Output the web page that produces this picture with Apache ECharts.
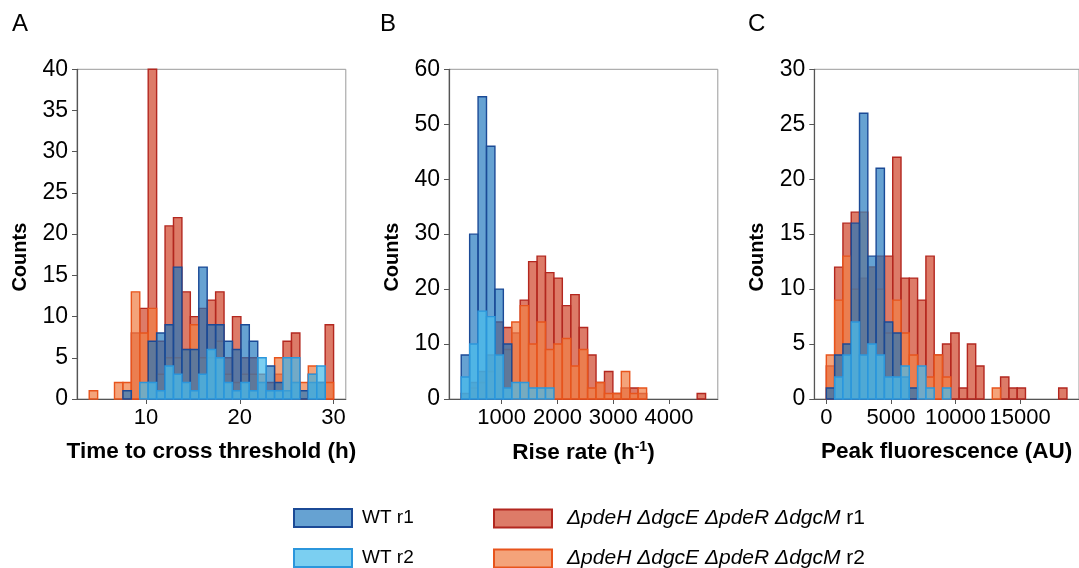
<!DOCTYPE html>
<html><head><meta charset="utf-8">
<script src="https://cdn.jsdelivr.net/npm/echarts@6.0.0/dist/echarts.min.js"></script>
<style>html,body{margin:0;padding:0;background:#fff}#c{width:1079px;height:568px}</style>
</head><body><div id="c"></div>
<script>
const seriesNames = ['ΔpdeH ΔdgcE ΔpdeR ΔdgcM r1','ΔpdeH ΔdgcE ΔpdeR ΔdgcM r2','WT r1','WT r2'];
const panelLetters = ['A','B','C'];
const xTitles = ['Time to cross threshold (h)','Rise rate (h{sup|-1})','Peak fluorescence (AU)'];
const yTitle = 'Counts';

// Panel A: time to cross threshold (29 bins)
const binStartA = 3.94, binWidthA = 0.8986;
const xTicksA = [10, 20, 30];
const yMaxA = 40, yStepA = 5;
const mutR1A = [0,0,0,0,0,8,11,40,7,21,22,13,10,11,12,13,5,10,5,5,3,2,3,7,8,0,3,2,9];
const mutR2A = [1,0,0,2,2,13,8,11,3,5,5,6,9,5,5,7,3,2,3,3,2,1,5,1,2,2,4,0,2];
const wtR1A  = [0,0,0,0,1,0,0,7,8,9,16,6,6,16,9,9,7,6,9,7,2,4,2,1,2,1,2,2,0];
const wtR2A  = [0,0,0,0,0,0,2,2,1,4,3,2,1,3,6,5,2,1,2,1,5,1,1,5,5,0,3,4,0];

// Panel B: rise rate (29 bins)
const binStartB = 276, binWidthB = 151;
const xTicksB = [1000, 2000, 3000, 4000];
const yMaxB = 60, yStepB = 10;
const mutR1B = [1,3,5,8,14,13,12,18,25,26,23,22,17,19,13,8,3,5,1,2,2,1,0,0,0,0,0,0,1];
const mutR2B = [0,2,3,5,8,9,14,17,10,14,9,10,11,6,9,2,3,1,1,5,1,2,0,0,0,0,0,0,0];
const wtR1B  = [8,30,55,46,20,10,0,0,0,0,0,0,0,0,0,0,0,0,0,0,0,0,0,0,0,0,0,0,0];
const wtR2B  = [4,10,16,15,8,2,3,3,2,2,2,0,0,0,0,0,0,0,0,0,0,0,0,0,0,0,0,0,0];

// Panel C: peak fluorescence (29 bins)
const binStartC = 0, binWidthC = 642.5;
const xTicksC = [0, 5000, 10000, 15000];
const yMaxC = 30, yStepC = 5;
const mutR1C = [3,12,16,17,11,12,13,13,22,11,11,9,13,4,5,6,1,5,3,0,0,2,1,1,0,0,0,0,1];
const mutR2C = [4,9,13,10,17,12,10,6,9,6,4,0,2,4,2,0,0,0,0,0,1,0,0,0,0,0,0,0,0];
const wtR1C  = [1,4,5,16,26,13,21,7,6,2,1,0,0,0,0,0,0,0,0,0,0,0,0,0,0,0,0,0,0];
const wtR2C  = [0,2,4,7,4,5,4,2,2,3,0,3,1,0,1,0,0,0,0,0,0,0,0,0,0,0,0,0,0];

const FONT = "'Liberation Sans', Arial, sans-serif";
const fills = ['rgba(208,72,46,0.72)','rgba(240,128,70,0.72)','rgba(30,118,188,0.68)','rgba(72,188,236,0.72)'];
const strokes = ['#b3271f','#e8541c','#1b4a96','#2b96dc'];

const panels = [
  {start:binStartA, width:binWidthA, ticks:xTicksA, ymax:yMaxA, ystep:yStepA, data:[mutR1A,mutR2A,wtR1A,wtR2A]},
  {start:binStartB, width:binWidthB, ticks:xTicksB, ymax:yMaxB, ystep:yStepB, data:[mutR1B,mutR2B,wtR1B,wtR2B]},
  {start:binStartC, width:binWidthC, ticks:xTicksC, ymax:yMaxC, ystep:yStepC, data:[mutR1C,mutR2C,wtR1C,wtR2C]}
];
const gridLeft = [77, 449, 814.3];
const gridW = 268.8;

const grids = [], xAxes = [], yAxes = [], series = [], graphics = [];
panels.forEach((p, gi) => {
  const n = p.data[0].length;
  const lo = p.start, hi = p.start + n * p.width, pad = 0.05 * (hi - lo);
  grids.push({left: gridLeft[gi], width: gridW, top: 69.3, height: 329.7, show: true, borderColor: '#9a9a9a', borderWidth: 1, containLabel: false});
  xAxes.push({type: 'value', gridIndex: gi, min: lo - pad, max: hi + pad,
    name: xTitles[gi], nameLocation: 'middle', nameGap: 41,
    nameTextStyle: {fontFamily: FONT, fontSize: 22.5, fontWeight: 'bold', color: '#000',
      rich: {sup: {fontSize: 14, fontWeight: 'bold', verticalAlign: 'top', padding: [0,0,11,0], fontFamily: FONT}}},
    splitLine: {show: false},
    axisLine: {show: true, onZero: false, lineStyle: {color: '#555', width: 1.2}},
    axisTick: {show: true, length: 5, customValues: p.ticks, lineStyle: {color: '#555'}},
    axisLabel: {customValues: p.ticks, formatter: (v) => String(v), fontFamily: FONT, fontSize: 22, color: '#000', margin: 8}
  });
  yAxes.push({type: 'value', gridIndex: gi, min: 0, max: p.ymax, interval: p.ystep,
    name: yTitle, nameLocation: 'middle', nameGap: 47,
    nameTextStyle: {fontFamily: FONT, fontSize: 20, fontWeight: 'bold', color: '#000', padding: [0, 46, 0, 0]},
    splitLine: {show: false},
    axisLine: {show: true, onZero: false, lineStyle: {color: '#555', width: 1.2}},
    axisTick: {show: true, length: 5, lineStyle: {color: '#555'}},
    axisLabel: {fontFamily: FONT, fontSize: 23, color: '#000', margin: 9}
  });
  p.data.forEach((counts, si) => {
    const data = counts.map((c, i) => [p.start + i * p.width, p.start + (i + 1) * p.width, c]);
    series.push({
      type: 'custom', name: seriesNames[si], xAxisIndex: gi, yAxisIndex: gi, data,
      encode: {x: [0, 1], y: 2}, z: 2 + si,
      itemStyle: {color: fills[si], borderColor: strokes[si], borderWidth: 1.4},
      renderItem: (params, api) => {
        const c = api.value(2);
        if (!c) return null;
        const a = api.coord([api.value(0), c]);
        const b = api.coord([api.value(1), 0]);
        return {type: 'rect', shape: {x: a[0], y: a[1], width: b[0] - a[0], height: b[1] - a[1]},
          style: {fill: fills[si], stroke: strokes[si], lineWidth: 1.4}};
      }
    });
  });
  graphics.push({type: 'text', left: [12, 380, 748][gi], top: 12,
    style: {text: panelLetters[gi], font: "24px 'Liberation Sans', Arial", fill: '#000'}});
});

const legendFor = (si, left, top) => ({
  left, top, padding: 0, orient: 'vertical', itemWidth: 58, itemHeight: 18, selectedMode: false,
  data: [{name: seriesNames[si], icon: 'rect', itemStyle: {color: fills[si], borderColor: strokes[si], borderWidth: 2}}],
  formatter: si < 2 ? (name) => '{i|' + name.slice(0, -3) + '} ' + name.slice(-2) : undefined,
  textStyle: {fontFamily: FONT, fontSize: si < 2 ? 21 : 19, color: '#000', padding: [0, 0, 0, si < 2 ? 10 : 5],
    rich: {i: {fontFamily: FONT, fontSize: 21, fontStyle: 'italic', color: '#000'}}}
});
const chart = echarts.init(document.getElementById('c'), null, {renderer: 'canvas'});
chart.setOption({
  animation: false,
  backgroundColor: '#fff',
  grid: grids, xAxis: xAxes, yAxis: yAxes, series,
  graphic: graphics,
  legend: [legendFor(2, 293, 508), legendFor(3, 293, 548), legendFor(0, 493, 508), legendFor(1, 493, 548)]
});
</script></body></html>
